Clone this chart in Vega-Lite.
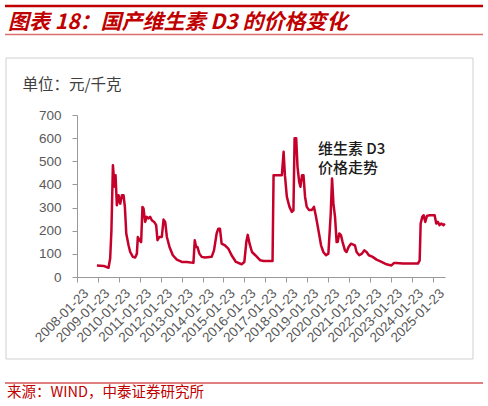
{
  "$schema": "https://vega.github.io/schema/vega-lite/v6.json",
  "width": 368,
  "height": 162,
  "autosize": {"type": "none"},
  "padding": {"left": 77, "top": 115, "right": 43, "bottom": 129},
  "background": "white",
  "config": {"view": {"stroke": null}, "font": "Liberation Sans", "axis": {"labelOverlap": false, "labelFlush": false}},
  "datasets": {
    "price": [
      {"date": "2009-01-05", "value": 50},
      {"date": "2009-05-01", "value": 48},
      {"date": "2009-07-26", "value": 40},
      {"date": "2009-08-24", "value": 80},
      {"date": "2009-09-15", "value": 200},
      {"date": "2009-10-11", "value": 483},
      {"date": "2009-11-09", "value": 390},
      {"date": "2009-11-26", "value": 440},
      {"date": "2009-12-19", "value": 310},
      {"date": "2010-01-17", "value": 353},
      {"date": "2010-02-16", "value": 317},
      {"date": "2010-03-17", "value": 353},
      {"date": "2010-04-15", "value": 353},
      {"date": "2010-05-08", "value": 303},
      {"date": "2010-06-01", "value": 188},
      {"date": "2010-07-11", "value": 137},
      {"date": "2010-08-09", "value": 108},
      {"date": "2010-09-25", "value": 87},
      {"date": "2010-11-04", "value": 84},
      {"date": "2010-12-03", "value": 100},
      {"date": "2010-12-20", "value": 173},
      {"date": "2011-01-18", "value": 159},
      {"date": "2011-02-16", "value": 151},
      {"date": "2011-03-11", "value": 303},
      {"date": "2011-03-29", "value": 296},
      {"date": "2011-04-27", "value": 238},
      {"date": "2011-05-26", "value": 260},
      {"date": "2011-06-24", "value": 253},
      {"date": "2011-07-23", "value": 260},
      {"date": "2011-08-21", "value": 245},
      {"date": "2011-10-01", "value": 238},
      {"date": "2011-11-05", "value": 224},
      {"date": "2011-11-28", "value": 159},
      {"date": "2012-01-02", "value": 173},
      {"date": "2012-02-12", "value": 173},
      {"date": "2012-03-13", "value": 248},
      {"date": "2012-04-11", "value": 238},
      {"date": "2012-05-10", "value": 173},
      {"date": "2012-06-25", "value": 130},
      {"date": "2012-08-22", "value": 94},
      {"date": "2012-10-31", "value": 75},
      {"date": "2013-01-26", "value": 65},
      {"date": "2013-04-23", "value": 65},
      {"date": "2013-08-17", "value": 61},
      {"date": "2013-09-09", "value": 159},
      {"date": "2013-10-02", "value": 130},
      {"date": "2013-10-25", "value": 130},
      {"date": "2013-11-29", "value": 101},
      {"date": "2014-01-08", "value": 87},
      {"date": "2014-03-07", "value": 84},
      {"date": "2014-07-01", "value": 87},
      {"date": "2014-08-11", "value": 115},
      {"date": "2014-09-26", "value": 188},
      {"date": "2014-10-25", "value": 209},
      {"date": "2014-11-23", "value": 209},
      {"date": "2014-12-22", "value": 144},
      {"date": "2015-02-18", "value": 137},
      {"date": "2015-04-17", "value": 123},
      {"date": "2015-06-14", "value": 94},
      {"date": "2015-08-29", "value": 65},
      {"date": "2015-12-06", "value": 55},
      {"date": "2016-01-23", "value": 65},
      {"date": "2016-02-26", "value": 151},
      {"date": "2016-03-21", "value": 182},
      {"date": "2016-04-23", "value": 144},
      {"date": "2016-06-04", "value": 108},
      {"date": "2016-08-01", "value": 94},
      {"date": "2016-10-27", "value": 72},
      {"date": "2016-12-24", "value": 69},
      {"date": "2017-05-29", "value": 69},
      {"date": "2017-06-16", "value": 440},
      {"date": "2017-11-08", "value": 440},
      {"date": "2017-12-08", "value": 541},
      {"date": "2017-12-31", "value": 440},
      {"date": "2018-02-03", "value": 346},
      {"date": "2018-03-21", "value": 303},
      {"date": "2018-05-01", "value": 281},
      {"date": "2018-05-29", "value": 288},
      {"date": "2018-06-18", "value": 599},
      {"date": "2018-07-16", "value": 599},
      {"date": "2018-08-08", "value": 476},
      {"date": "2018-09-06", "value": 411},
      {"date": "2018-09-28", "value": 390},
      {"date": "2018-10-26", "value": 440},
      {"date": "2018-11-20", "value": 440},
      {"date": "2018-12-18", "value": 346},
      {"date": "2019-01-16", "value": 303},
      {"date": "2019-02-26", "value": 289},
      {"date": "2019-04-12", "value": 289},
      {"date": "2019-05-22", "value": 303},
      {"date": "2019-06-27", "value": 260},
      {"date": "2019-08-08", "value": 202},
      {"date": "2019-09-23", "value": 137},
      {"date": "2019-11-02", "value": 108},
      {"date": "2019-12-18", "value": 94},
      {"date": "2020-01-29", "value": 101},
      {"date": "2020-03-10", "value": 274},
      {"date": "2020-04-02", "value": 426},
      {"date": "2020-04-26", "value": 317},
      {"date": "2020-05-24", "value": 260},
      {"date": "2020-06-21", "value": 151},
      {"date": "2020-07-09", "value": 151},
      {"date": "2020-08-06", "value": 188},
      {"date": "2020-09-04", "value": 181},
      {"date": "2020-10-03", "value": 151},
      {"date": "2020-11-13", "value": 115},
      {"date": "2020-12-11", "value": 108},
      {"date": "2021-01-16", "value": 130},
      {"date": "2021-02-26", "value": 144},
      {"date": "2021-05-06", "value": 137},
      {"date": "2021-06-04", "value": 108},
      {"date": "2021-07-21", "value": 94},
      {"date": "2021-09-06", "value": 101},
      {"date": "2021-10-16", "value": 115},
      {"date": "2021-11-25", "value": 108},
      {"date": "2022-01-04", "value": 94},
      {"date": "2022-03-11", "value": 87},
      {"date": "2022-05-19", "value": 75},
      {"date": "2022-08-14", "value": 65},
      {"date": "2022-11-08", "value": 55},
      {"date": "2023-02-02", "value": 50},
      {"date": "2023-03-22", "value": 61},
      {"date": "2023-04-29", "value": 61},
      {"date": "2023-08-23", "value": 58},
      {"date": "2024-01-16", "value": 58},
      {"date": "2024-05-11", "value": 58},
      {"date": "2024-06-10", "value": 72},
      {"date": "2024-06-27", "value": 231},
      {"date": "2024-07-26", "value": 260},
      {"date": "2024-08-18", "value": 267},
      {"date": "2024-09-16", "value": 238},
      {"date": "2024-10-15", "value": 264},
      {"date": "2024-12-01", "value": 267},
      {"date": "2025-02-26", "value": 267},
      {"date": "2025-03-26", "value": 231},
      {"date": "2025-04-23", "value": 238},
      {"date": "2025-05-22", "value": 224},
      {"date": "2025-06-20", "value": 231},
      {"date": "2025-07-30", "value": 224},
      {"date": "2025-08-22", "value": 231}
    ]
  },
  "layer": [
    {
      "data": {"values": [{}]},
      "mark": {"type": "rect", "fill": null, "stroke": "#CFCFCF", "strokeWidth": 1},
      "encoding": {"x": {"value": -71}, "x2": {"value": 396}, "y": {"value": -57}, "y2": {"value": 244}}
    },
    {
      "data": {"values": [{}]},
      "mark": {"type": "rule", "color": "#C00000", "strokeWidth": 2.5},
      "encoding": {"x": {"value": -72}, "x2": {"value": 406}, "y": {"value": -109}}
    },
    {
      "data": {"values": [{}]},
      "mark": {"type": "rule", "color": "#D97070", "strokeWidth": 1.5},
      "encoding": {"x": {"value": -72}, "x2": {"value": 406}, "y": {"value": -80.5}}
    },
    {
      "data": {"values": [{}]},
      "mark": {"type": "rule", "color": "#C00000", "strokeWidth": 1},
      "encoding": {"x": {"value": -72}, "x2": {"value": 406}, "y": {"value": 268}}
    },
    {
      "data": {"values": [{}]},
      "mark": {"type": "text", "text": "图表 18：国产维生素 D3 的价格变化", "align": "left", "baseline": "alphabetic", "font": "Noto Sans CJK SC", "fontSize": 21, "fontWeight": "bold", "fontStyle": "italic", "color": "#C00000"},
      "encoding": {"x": {"value": -69}, "y": {"value": -86}}
    },
    {
      "data": {"values": [{}]},
      "mark": {"type": "text", "text": "来源：WIND，中泰证券研究所", "align": "left", "baseline": "middle", "font": "Noto Sans CJK SC", "fontSize": 14.5, "color": "#C00000"},
      "encoding": {"x": {"value": -70}, "y": {"value": 278}}
    },
    {
      "data": {"name": "price"},
      "mark": {"type": "line", "color": "#C5002B", "strokeWidth": 2.5, "strokeJoin": "round", "clip": false},
      "encoding": {
        "x": {
          "field": "date",
          "type": "temporal",
          "scale": {"type": "utc", "domain": [{"year": 2008, "month": 1, "date": 23, "utc": true}, {"year": 2025, "month": 8, "date": 26, "utc": true}]},
          "axis": {
            "title": null,
            "grid": false,
            "tickCount": 40,
            "values": [
              {"year": 2008, "month": 1, "date": 23, "utc": true},
              {"year": 2009, "month": 1, "date": 23, "utc": true},
              {"year": 2010, "month": 1, "date": 23, "utc": true},
              {"year": 2011, "month": 1, "date": 23, "utc": true},
              {"year": 2012, "month": 1, "date": 23, "utc": true},
              {"year": 2013, "month": 1, "date": 23, "utc": true},
              {"year": 2014, "month": 1, "date": 23, "utc": true},
              {"year": 2015, "month": 1, "date": 23, "utc": true},
              {"year": 2016, "month": 1, "date": 23, "utc": true},
              {"year": 2017, "month": 1, "date": 23, "utc": true},
              {"year": 2018, "month": 1, "date": 23, "utc": true},
              {"year": 2019, "month": 1, "date": 23, "utc": true},
              {"year": 2020, "month": 1, "date": 23, "utc": true},
              {"year": 2021, "month": 1, "date": 23, "utc": true},
              {"year": 2022, "month": 1, "date": 23, "utc": true},
              {"year": 2023, "month": 1, "date": 23, "utc": true},
              {"year": 2024, "month": 1, "date": 23, "utc": true},
              {"year": 2025, "month": 1, "date": 23, "utc": true}
            ],
            "format": "%Y-%m-%d",
            "labelAngle": -45,
            "labelAlign": "right",
            "labelBaseline": "top",
            "labelPadding": 4,
            "labelOffset": 4,
            "labelFontSize": 13.5,
            "labelColor": "#595959",
            "labelOverlap": false,
            "labelFlush": false,
            "domainColor": "#9A9A9A",
            "tickColor": "#9A9A9A",
            "tickSize": 5
          }
        },
        "y": {
          "field": "value",
          "type": "quantitative",
          "scale": {"domain": [0, 700], "nice": false},
          "axis": {
            "values": [0, 100, 200, 300, 400, 500, 600, 700],
            "tickCount": 20,
            "grid": false,
            "title": "单位：元/千克",
            "titleAngle": 0,
            "titleX": -55,
            "titleY": -31,
            "titleAlign": "left",
            "titleBaseline": "middle",
            "titleFont": "Noto Sans CJK SC",
            "titleFontWeight": "normal",
            "titleFontSize": 15.5,
            "titleColor": "#404040",
            "labelFontSize": 13.5,
            "labelColor": "#595959",
            "labelPadding": 11,
            "labelOverlap": false,
            "domainColor": "#9A9A9A",
            "tickColor": "#9A9A9A",
            "tickSize": 5
          }
        }
      }
    },
    {
      "data": {"values": [{}]},
      "mark": {"type": "text", "text": "维生素 D3", "align": "left", "baseline": "middle", "font": "Noto Sans CJK SC", "fontSize": 15, "fontWeight": 500, "color": "#1A1A1A"},
      "encoding": {"x": {"datum": {"year": 2019, "month": 7, "date": 30, "utc": true}}, "y": {"datum": 553}}
    },
    {
      "data": {"values": [{}]},
      "mark": {"type": "text", "text": "价格走势", "align": "left", "baseline": "middle", "font": "Noto Sans CJK SC", "fontSize": 15, "fontWeight": 500, "color": "#1A1A1A"},
      "encoding": {"x": {"datum": {"year": 2019, "month": 7, "date": 30, "utc": true}}, "y": {"datum": 470}}
    }
  ]
}
